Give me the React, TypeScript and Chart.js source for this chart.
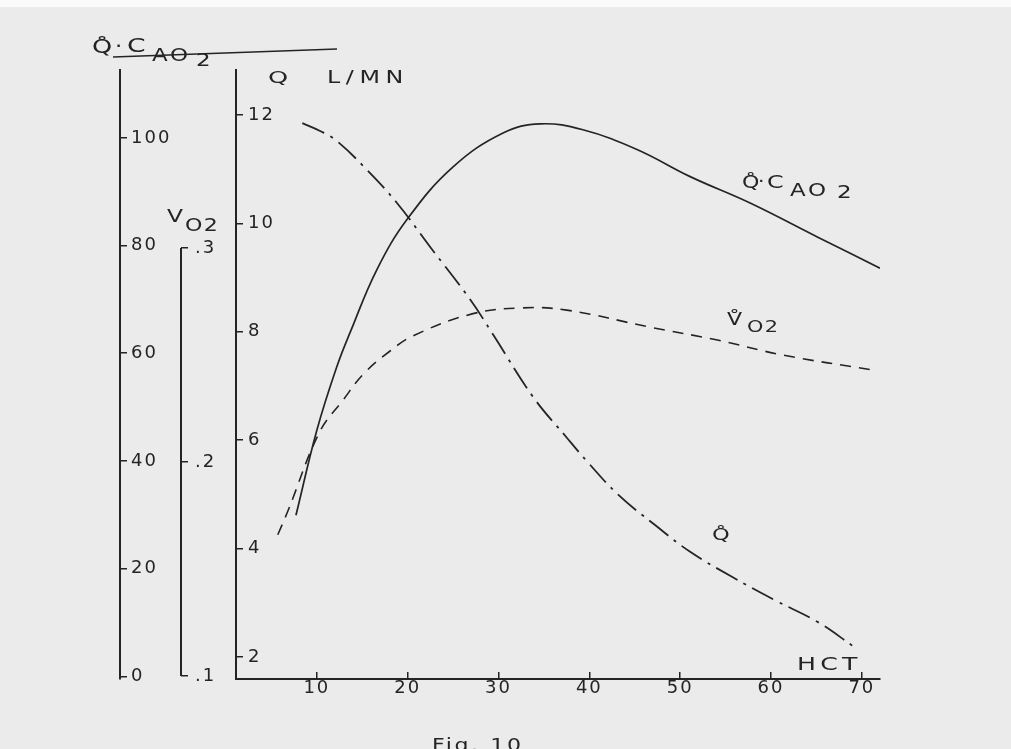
import React, { useEffect, useRef } from 'react';
import { Chart, registerables } from 'chart.js';

Chart.register(...registerables);

// ---- data ----
const HCT_TICKS = [10, 20, 30, 40, 50, 60, 70];
const QCAO2_TICKS = [0, 20, 40, 60, 80, 100];
const VO2_TICKS = [0.1, 0.2, 0.3];
const Q_TICKS = [2, 4, 6, 8, 10, 12];

const QCAO2_HCT = [7.7, 10.0, 12.2, 13.7, 16.6, 20.0, 25.0, 30.5, 34.6, 39.3, 45.3, 51.1, 57.7, 65.1, 72.0];
const QCAO2_VALUES = [29.9, 45.7, 57.5, 64.0, 75.5, 85.0, 94.6, 100.9, 102.6, 101.5, 97.8, 92.8, 87.9, 81.6, 75.8];

const VO2_HCT = [5.7, 6.8, 10.3, 12.9, 15.1, 18.1, 20.6, 26.9, 32.4, 37.5, 46.7, 54.1, 61.3, 71.2];
const VO2_VALUES = [0.166, 0.177, 0.214, 0.229, 0.241, 0.252, 0.259, 0.269, 0.272, 0.271, 0.263, 0.257, 0.25, 0.243];

const Q_HCT = [8.4, 10.3, 12.2, 15.5, 18.8, 22.5, 26.9, 29.4, 33.8, 37.5, 39.9, 43.2, 47.2, 51.1, 55.7, 60.4, 65.1, 69.2];
const Q_VALUES = [11.85, 11.71, 11.52, 10.99, 10.38, 9.56, 8.59, 7.95, 6.8, 6.05, 5.58, 4.99, 4.44, 3.94, 3.48, 3.05, 2.65, 2.18];

const INK = '#242424';
const PAPER = '#ebebeb';
const FONT = '"DejaVu Sans", sans-serif';

function txt(ctx: CanvasRenderingContext2D, s: string, x: number, y: number, size: number, sx = 1.35, spacing = 1) {
  ctx.save();
  ctx.font = `${size}px ${FONT}`;
  (ctx as any).letterSpacing = `${spacing}px`;
  ctx.fillStyle = INK;
  ctx.textAlign = 'left';
  ctx.textBaseline = 'alphabetic';
  ctx.translate(x, y);
  ctx.scale(sx, 1);
  ctx.fillText(s, 0, 0);
  ctx.restore();
}

const paperPlugin = {
  id: 'paper',
  beforeDraw(chart: any) {
    const ctx = chart.ctx as CanvasRenderingContext2D;
    ctx.save();
    ctx.fillStyle = PAPER;
    ctx.fillRect(0, 0, chart.width, chart.height);
    ctx.fillStyle = '#fbfbfb';
    ctx.fillRect(0, 0, chart.width, 7);
    ctx.restore();
    (ctx as any).letterSpacing = '2px';
  },
};

const annotPlugin = {
  id: 'annot',
  afterDraw(chart: any) {
    const ctx = chart.ctx as CanvasRenderingContext2D;
    const yV = chart.scales.yV;
    // VO2 axis line only spans .1 to .3
    ctx.save();
    ctx.strokeStyle = INK;
    ctx.lineWidth = 2;
    ctx.beginPath();
    ctx.moveTo(yV.right, yV.getPixelForValue(VO2_TICKS[0]));
    ctx.lineTo(yV.right, yV.getPixelForValue(VO2_TICKS[VO2_TICKS.length - 1]));
    ctx.stroke();
    // title rule under Q·CAO2
    ctx.lineWidth = 1.5;
    ctx.beginPath();
    ctx.moveTo(113, 57);
    ctx.lineTo(337, 49);
    ctx.stroke();
    ctx.restore();

    // top-left axis title
    txt(ctx, 'Q\u030A', 92, 53, 19, 1.35, 1);
    txt(ctx, '\u00B7', 115, 53, 19, 1.2, 0);
    txt(ctx, 'C', 127, 52, 19, 1.4, 1);
    txt(ctx, 'AO', 152, 61, 17, 1.35, 2);
    txt(ctx, '2', 196, 66, 17, 1.35, 1);

    // VO2 axis title
    txt(ctx, 'V', 167, 222, 18, 1.3, 1);
    txt(ctx, 'O2', 185, 231, 17, 1.3, 1);

    // Q axis title
    txt(ctx, 'Q', 268, 83, 16, 1.6, 1);
    txt(ctx, 'L/MN', 327, 83, 17, 1.4, 4);

    // curve labels
    txt(ctx, 'Q\u030A', 742, 188, 17, 1.3, 1);
    txt(ctx, '\u00B7', 758, 187, 17, 1.2, 0);
    txt(ctx, 'C', 767, 188, 17, 1.4, 1);
    txt(ctx, 'AO', 790, 196, 17, 1.35, 2);
    txt(ctx, '2', 837, 198, 17, 1.35, 1);

    txt(ctx, 'V\u030A', 727, 325, 17, 1.3, 1);
    txt(ctx, 'O2', 747, 332, 16, 1.3, 1);

    txt(ctx, 'Q\u030A', 712, 540, 15, 1.5, 1);

    txt(ctx, 'HCT', 797, 670, 18, 1.4, 3);
    txt(ctx, 'Fig. 10', 432, 751, 17, 1.3, 2);
  },
};

const tickFont = { family: FONT, size: 18 };

export default function App() {
  const ref = useRef<HTMLCanvasElement>(null);

  useEffect(() => {
    const canvas = ref.current;
    if (!canvas) return;
    const chart = new Chart(canvas, {
      type: 'line',
      data: {
        datasets: [
          {
            label: 'Q·CaO2',
            data: QCAO2_HCT.map((x, i) => ({ x, y: QCAO2_VALUES[i] })),
            yAxisID: 'yC',
            borderColor: INK,
            borderWidth: 1.7,
            pointRadius: 0,
            tension: 0.4,
            fill: false,
          },
          {
            label: 'VO2',
            data: VO2_HCT.map((x, i) => ({ x, y: VO2_VALUES[i] })),
            yAxisID: 'yV',
            borderColor: INK,
            borderWidth: 1.6,
            borderDash: [11, 8],
            pointRadius: 0,
            tension: 0.4,
            fill: false,
          },
          {
            label: 'Q',
            data: Q_HCT.map((x, i) => ({ x, y: Q_VALUES[i] })),
            yAxisID: 'yQ',
            borderColor: INK,
            borderWidth: 1.8,
            borderDash: [24, 7, 3, 7],
            pointRadius: 0,
            tension: 0.4,
            fill: false,
          },
        ],
      },
      options: {
        responsive: false,
        animation: false,
        layout: { padding: { left: 0, top: 70, right: 131, bottom: 0 } },
        plugins: { legend: { display: false }, tooltip: { enabled: false } },
        scales: {
          x: {
            type: 'linear',
            position: 'bottom',
            min: 1.1,
            max: 72,
            afterBuildTicks: (a: any) => { a.ticks = HCT_TICKS.map((value) => ({ value })); },
            afterFit: (a: any) => { a.height = 70; },
            grid: { drawOnChartArea: false, drawTicks: true, tickLength: -7, color: INK, lineWidth: 1.5 },
            border: { display: true, color: INK, width: 2 },
            ticks: { font: tickFont, color: INK, padding: 6, maxRotation: 0, autoSkip: false },
          },
          yC: {
            type: 'linear',
            position: 'left',
            weight: 3,
            min: -0.5,
            max: 112.6,
            afterBuildTicks: (a: any) => { a.ticks = QCAO2_TICKS.map((value) => ({ value })); },
            afterFit: (a: any) => { a.width = 120; },
            grid: { drawOnChartArea: false, drawTicks: true, tickLength: -7, color: INK, lineWidth: 1.5 },
            border: { display: true, color: INK, width: 2 },
            ticks: { mirror: true, font: tickFont, color: INK, padding: 11 },
          },
          yV: {
            type: 'linear',
            position: 'left',
            weight: 2,
            min: 0.0986,
            max: 0.3832,
            afterBuildTicks: (a: any) => { a.ticks = VO2_TICKS.map((value) => ({ value })); },
            afterFit: (a: any) => { a.width = 61; },
            grid: { drawOnChartArea: false, drawTicks: true, tickLength: -7, color: INK, lineWidth: 1.5 },
            border: { display: false },
            ticks: {
              mirror: true,
              font: tickFont,
              color: INK,
              padding: 14,
              callback: (v: any) => '.' + Math.round(Number(v) * 10),
            },
          },
          yQ: {
            type: 'linear',
            position: 'left',
            weight: 1,
            min: 1.594,
            max: 12.83,
            afterBuildTicks: (a: any) => { a.ticks = Q_TICKS.map((value) => ({ value })); },
            afterFit: (a: any) => { a.width = 55; },
            grid: { drawOnChartArea: false, drawTicks: true, tickLength: -7, color: INK, lineWidth: 1.5 },
            border: { display: true, color: INK, width: 2 },
            ticks: { mirror: true, font: tickFont, color: INK, padding: 12 },
          },
        },
      },
      plugins: [paperPlugin, annotPlugin],
    } as any);
    return () => chart.destroy();
  }, []);

  return (
    <div style={{ position: 'fixed', left: 0, top: 0, width: 1011, height: 749, overflow: 'hidden' }}>
      <canvas ref={ref} width={1011} height={749} style={{ display: 'block', width: 1011, height: 749 }} />
    </div>
  );
}
